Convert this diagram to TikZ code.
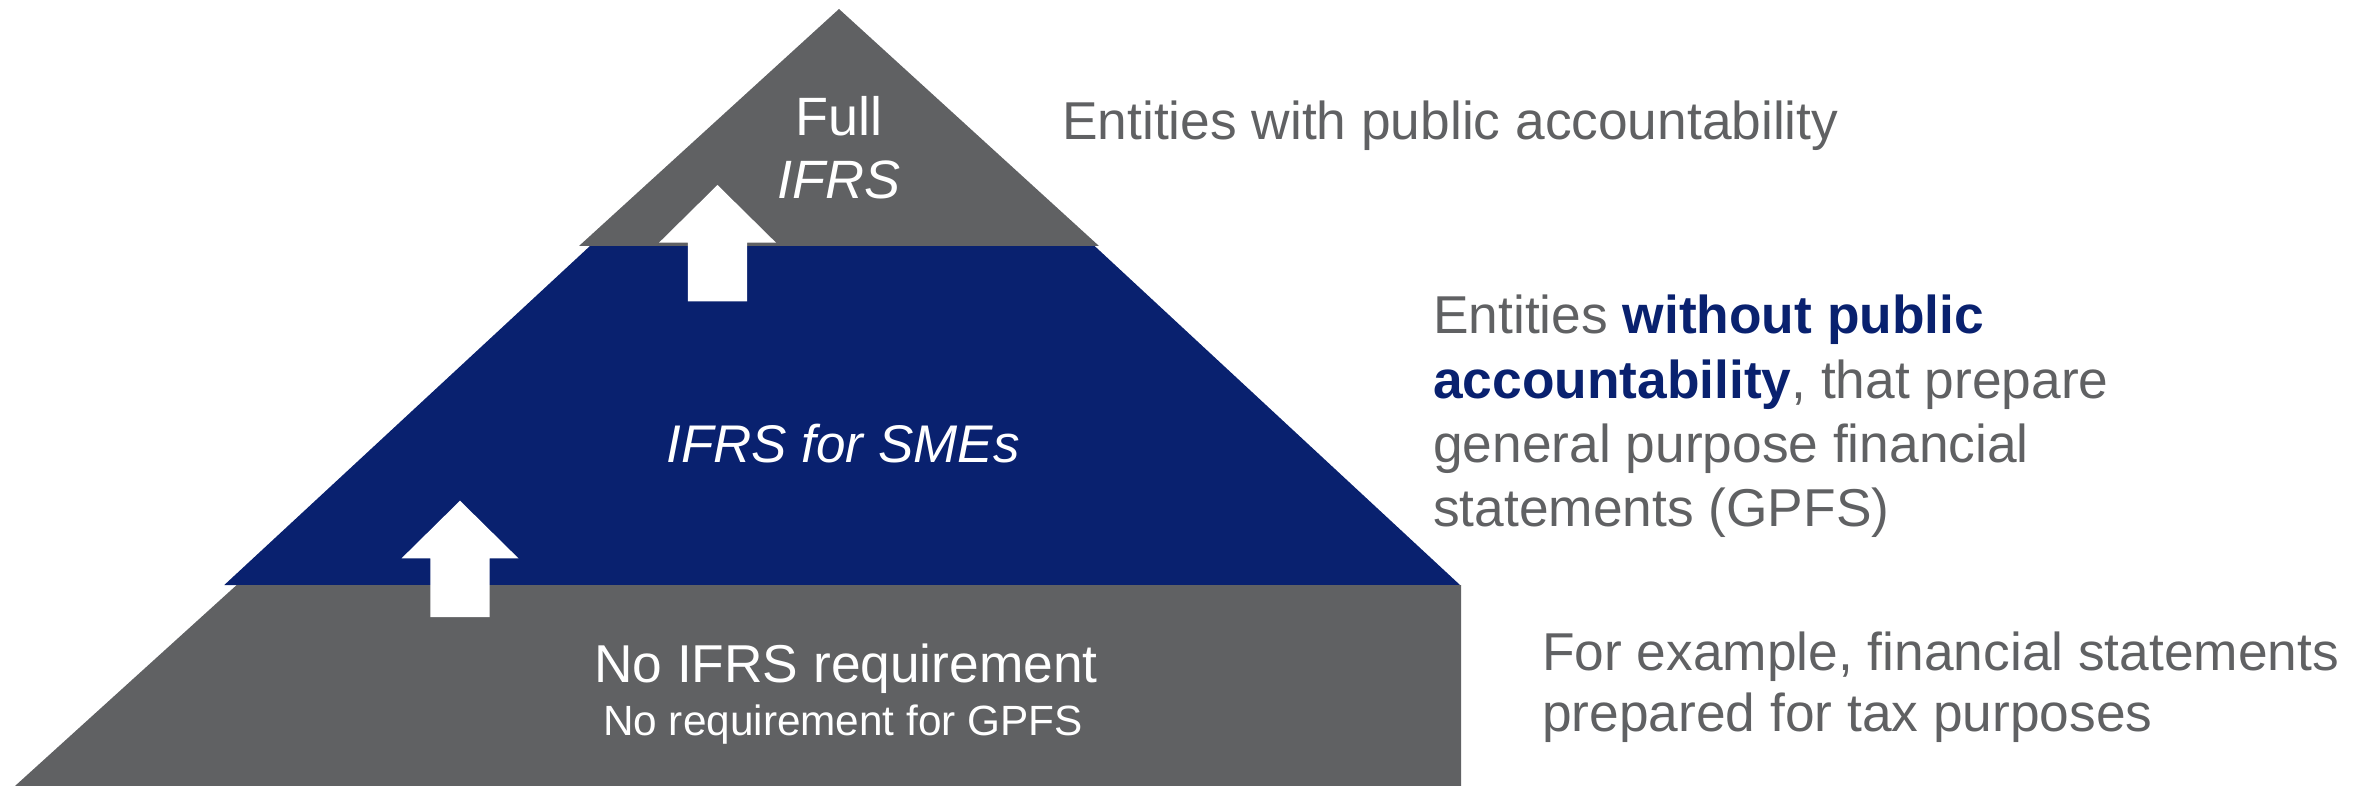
\documentclass[tikz,border=0pt]{standalone}
\usepackage{fontspec}
\setmainfont{Liberation Sans}
\definecolor{slate}{RGB}{96,97,99}
\definecolor{navy}{RGB}{9,33,111}
\begin{document}
\begin{tikzpicture}[x=1pt,y=-1pt,
  greytier/.style={fill=slate},
  bluetier/.style={fill=navy},
  inlabel/.style={text=white,inner sep=0pt,anchor=base},
  sidelabel/.style={text=slate,inner sep=0pt,anchor=base west,font=\fontsize{53.3}{64}\selectfont},
  uparrow/.pic={\fill[white] (0,0) -- (58.5,57.7) -- (29.6,57.7) -- (29.6,116.5)
      -- (-29.6,116.5) -- (-29.6,57.7) -- (-58.5,57.7) -- cycle;}]
\useasboundingbox (0,0) rectangle (2356,786);

% pyramid tiers
\fill[bluetier] (590,246) -- (1094.6,246) -- (1460,585) -- (224.3,585) -- cycle;
\fill[greytier] (839,9) -- (1099,246) -- (579,246) -- cycle;
\fill[greytier] (236.7,585) -- (1461,585) -- (1461,786) -- (15,786) -- cycle;

% upward arrows between tiers
\pic at (717.5,185) {uparrow};
\pic at (460,500.7) {uparrow};

% labels inside the pyramid
\node[inlabel,font=\fontsize{54}{62}\selectfont] (full) at (839,136) {Full};
\node[inlabel,font=\fontsize{54}{62}\selectfont\itshape] (fullifrs) at (839,199) {IFRS};
\node[inlabel,font=\fontsize{53}{62}\selectfont\itshape] (sme) at (843,462) {IFRS for SMEs};
\node[inlabel,font=\fontsize{53.3}{62}\selectfont] (noifrs) at (846,682) {No IFRS requirement};
\node[inlabel,font=\fontsize{42.3}{50}\selectfont] (nogpfs) at (843,735) {No requirement for GPFS};

% descriptions beside the tiers
\node[sidelabel] (pa) at (1062,140) {Entities with public accountability};

\node[sidelabel] (npa1) at (1433,334) {Entities \textcolor{navy}{\bfseries without public}};
\node[sidelabel] (npa2) at (1433,398) {\textcolor{navy}{\bfseries accountability}, that prepare};
\node[sidelabel] (npa3) at (1433,462) {general purpose financial};
\node[sidelabel] (npa4) at (1433,526) {statements (GPFS)};

\node[sidelabel] (tax1) at (1542,670) {For example, financial statements};
\node[sidelabel] (tax2) at (1542,731) {prepared for tax purposes};
\end{tikzpicture}
\end{document}
